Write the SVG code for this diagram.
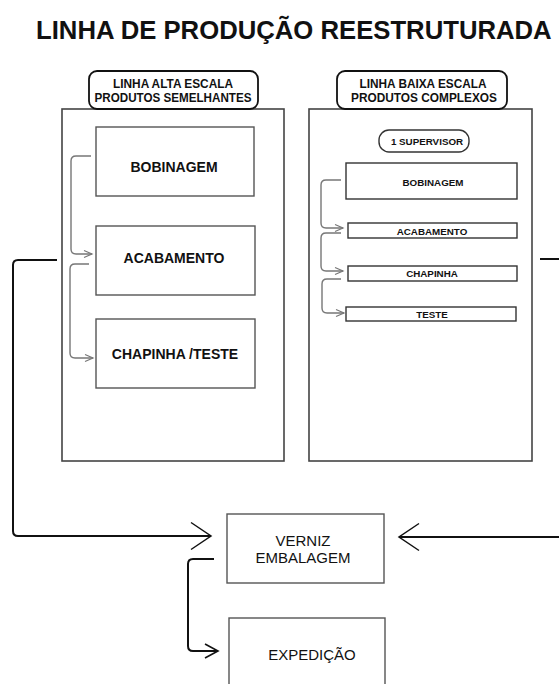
<svg xmlns="http://www.w3.org/2000/svg" width="559" height="684" viewBox="0 0 559 684">
  <style>
    text { font-family: "Liberation Sans", Arial, sans-serif; fill: #111; text-anchor: middle; }
    .title { font-size: 25.7px; font-weight: bold; text-anchor: start; }
    .lbl { font-size: 12.5px; font-weight: bold; }
    .big { font-size: 14px; font-weight: bold; }
    .sm { font-size: 9.8px; font-weight: bold; }
    .reg { font-size: 15px; }
    .panel { fill: #fff; stroke: #444; stroke-width: 1.6; }
    .tag { fill: #fff; stroke: #111; stroke-width: 1.8; }
    .box { fill: #fff; stroke: #555; stroke-width: 1.4; }
    .sbox { fill: #fff; stroke: #333; stroke-width: 1.4; }
    .cg { fill: none; stroke: #777; stroke-width: 1.4; }
    .ck { fill: none; stroke: #111; stroke-width: 2; }
  </style>
  <defs>
    <marker id="ah-sm" markerUnits="userSpaceOnUse" markerWidth="14" markerHeight="12" viewBox="-12 -6 14 12" refX="0" refY="0" orient="auto">
      <path d="M-8,-3.5 L0,0 L-8,3.5" fill="none" stroke="#777" stroke-width="1.2"/>
    </marker>
    <marker id="ah-md" markerUnits="userSpaceOnUse" markerWidth="18" markerHeight="18" viewBox="-16 -9 18 18" refX="0" refY="0" orient="auto">
      <path d="M-13,-7 L0,0 L-13,7" fill="none" stroke="#111" stroke-width="1.6"/>
    </marker>
    <marker id="ah-lg" markerUnits="userSpaceOnUse" markerWidth="26" markerHeight="32" viewBox="-23 -16 26 32" refX="0" refY="0" orient="auto">
      <path d="M-20,-13.5 L0,0 L-20,13.5" fill="none" stroke="#111" stroke-width="1.5"/>
    </marker>
  </defs>

  <rect width="559" height="684" fill="#fff"/>

  <text class="title" x="36" y="39">LINHA DE PRODUÇÃO REESTRUTURADA</text>

  <!-- high-volume line -->
  <g id="panel-alta">
    <rect class="panel" x="62" y="109" width="222" height="352"/>
    <rect class="tag" x="89" y="71" width="169" height="38" rx="8"/>
    <text class="lbl" x="173" y="88" textLength="120" lengthAdjust="spacingAndGlyphs">LINHA ALTA ESCALA</text>
    <text class="lbl" x="173" y="102" textLength="157" lengthAdjust="spacingAndGlyphs">PRODUTOS SEMELHANTES</text>
  </g>
  <g id="alta-bobinagem">
    <rect class="box" x="96" y="127" width="158" height="69"/>
    <text class="big" x="174" y="172">BOBINAGEM</text>
  </g>
  <g id="alta-acabamento">
    <rect class="box" x="96" y="226" width="159" height="69"/>
    <text class="big" x="174" y="263">ACABAMENTO</text>
  </g>
  <g id="alta-chapinha-teste">
    <rect class="box" x="96" y="319" width="159" height="69"/>
    <text class="big" x="175" y="359">CHAPINHA /TESTE</text>
  </g>

  <!-- low-volume line -->
  <g id="panel-baixa">
    <rect class="panel" x="309" y="109" width="223" height="352"/>
    <rect class="tag" x="337" y="71" width="170" height="38" rx="8"/>
    <text class="lbl" x="423" y="88" textLength="127" lengthAdjust="spacingAndGlyphs">LINHA BAIXA ESCALA</text>
    <text class="lbl" x="424" y="102" textLength="146" lengthAdjust="spacingAndGlyphs">PRODUTOS COMPLEXOS</text>
  </g>
  <g id="supervisor">
    <rect class="sbox" x="379" y="130" width="90" height="22" rx="10"/>
    <text class="sm" x="427" y="144.5">1 SUPERVISOR</text>
  </g>
  <g id="baixa-bobinagem">
    <rect class="sbox" x="346" y="163" width="171" height="36"/>
    <text class="sm" x="433" y="186">BOBINAGEM</text>
  </g>
  <g id="baixa-acabamento">
    <rect class="sbox" x="348" y="223" width="169" height="15"/>
    <text class="sm" x="432" y="234.5">ACABAMENTO</text>
  </g>
  <g id="baixa-chapinha">
    <rect class="sbox" x="348" y="266" width="169" height="15"/>
    <text class="sm" x="432" y="277">CHAPINHA</text>
  </g>
  <g id="baixa-teste">
    <rect class="sbox" x="346" y="307" width="170" height="14"/>
    <text class="sm" x="432" y="318">TESTE</text>
  </g>

  <!-- finishing and dispatch -->
  <g id="verniz-embalagem">
    <rect class="box" x="227" y="514" width="157" height="69"/>
    <text class="reg" x="303" y="546">VERNIZ</text>
    <text class="reg" x="303" y="563">EMBALAGEM</text>
  </g>
  <g id="expedicao">
    <rect class="box" x="229" y="618" width="156" height="80"/>
    <text class="reg" x="312" y="660">EXPEDIÇÃO</text>
  </g>

  <g id="connectors">
    <path class="cg" d="M91,156 H76 Q71,156 71,161 V249 Q71,254 76,254 H92" marker-end="url(#ah-sm)"/>
    <path class="cg" d="M89,264 H75 Q70,264 70,269 V353 Q70,358 75,358 H93" marker-end="url(#ah-sm)"/>
    <path class="cg" d="M341,180 H326 Q321,180 321,185 V223 Q321,228 326,228 H343" marker-end="url(#ah-sm)"/>
    <path class="cg" d="M341,233 H326 Q321,233 321,238 V266 Q321,271 326,271 H343" marker-end="url(#ah-sm)"/>
    <path class="cg" d="M341,279 H327 Q322,279 322,284 V308 Q322,313 327,313 H344" marker-end="url(#ah-sm)"/>
    <path class="ck" d="M57,260 H18 Q13,260 13,265 V531 Q13,536 18,536 H211" marker-end="url(#ah-lg)"/>
    <path class="ck" d="M540,259 H559"/>
    <path class="ck" d="M559,537 H399" marker-end="url(#ah-lg)"/>
    <path class="ck" d="M214,559 H193 Q188,559 188,564 V646 Q188,651 193,651 H218" marker-end="url(#ah-md)"/>
  </g>
</svg>
